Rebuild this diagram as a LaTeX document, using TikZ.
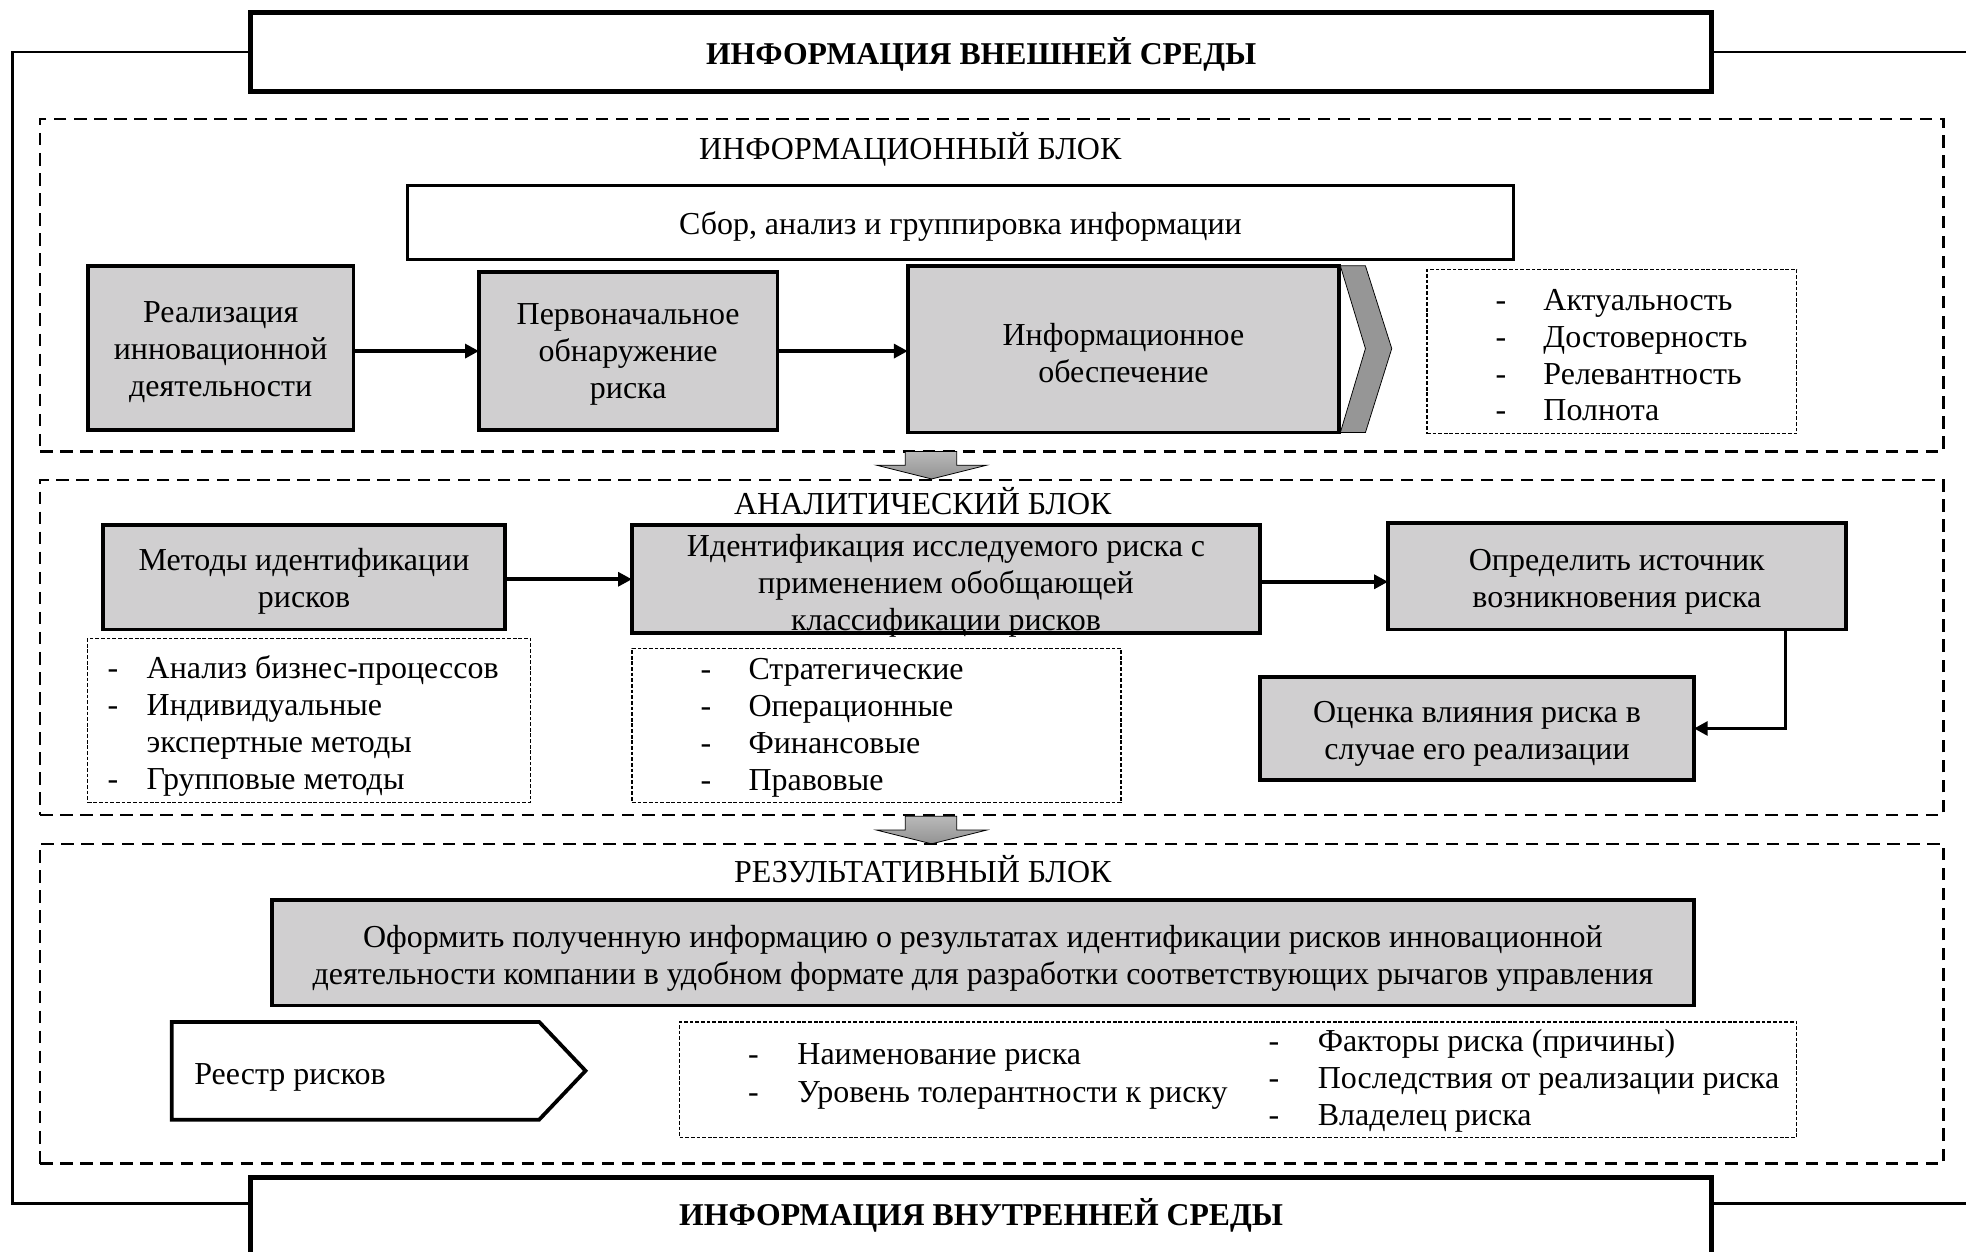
\documentclass[tikz,border=0pt]{standalone}
\usepackage{fontspec}
\setmainfont{Liberation Serif}
\usetikzlibrary{arrows.meta,calc}
\definecolor{boxgray}{RGB}{208,207,208}
\definecolor{chevgray}{RGB}{150,150,150}
\begin{document}
\begin{tikzpicture}[x=1pt,y=-1pt,
  font=\fontsize{25.5}{29.5}\selectfont,
  every node/.style={inner sep=0pt, outer sep=0pt},
  envbox/.style={draw, line width=4pt, fill=white, minimum width=1165pt},
  envtext/.style={font=\fontsize{25.3}{29.5}\selectfont\bfseries},
  graybox/.style={draw, line width=3pt, fill=boxgray},
  whitebox/.style={draw, line width=2.5pt, fill=white},
  boxtext/.style={align=center},
  blockframe/.style={draw, line width=2pt, dash pattern=on 10pt off 6pt},
  listframe/.style={draw, line width=1pt, dash pattern=on 3pt off 1.5pt},
  arr/.style={line width=3pt, -{Triangle[length=11pt,width=11pt]}},
  blockarrow/.style={draw, line width=0.6pt, top color=gray!55, bottom color=gray!85},
  chev/.style={draw, line width=0.6pt, fill=chevgray}
]
\useasboundingbox (0,0) rectangle (1568,998);

% frame lines and environment boxes
\node[envbox, minimum height=63pt] (ext) at (782.5,41.5) {};
\node[envtext] (exttext) at (782.5,43) {ИНФОРМАЦИЯ ВНЕШНЕЙ СРЕДЫ};
\node[envbox, minimum height=64pt] (int) at (782.5,971) {};
\node[envtext] (inttext) at (782.5,969.5) {ИНФОРМАЦИЯ ВНУТРЕННЕЙ СРЕДЫ};
\draw[line width=2pt] (ext.west) -- (10,41.5) -- (10,960) -- (int.west |- 0,960);
\draw[line width=2pt] (ext.east) -- (1568,41.5);
\draw[line width=2pt] (int.east |- 0,960) -- (1568,960);

% ---------- information block ----------
\node[blockframe, minimum width=1518pt, minimum height=265pt] (infoblk) at (791,227.5) {};
\node (infotitle) at (726,119) {ИНФОРМАЦИОННЫЙ БЛОК};
\node[whitebox, minimum width=882pt, minimum height=59pt] (sbor) at (766,177.5) {};
\node[boxtext] (sbortext) at (766,181) {Сбор, анализ и группировка информации};
\node[graybox, minimum width=212pt, minimum height=131pt] (real) at (176,277.5) {};
\node[boxtext] (realtext) at (176,281) {Реализация\\инновационной\\деятельности};
\node[graybox, minimum width=238pt, minimum height=126pt] (perv) at (501,280) {};
\node[boxtext] (pervtext) at (501,283) {Первоначальное\\обнаружение\\риска};
\node[graybox, minimum width=344pt, minimum height=133pt] (infob) at (896,278.5) {};
\node[boxtext] (infobtext) at (896,281.5) {Информационное\\обеспечение};
\draw[chev] (1069,212) -- (1089,212) -- (1110,278) -- (1089,345) -- (1069,345) -- (1089,278) -- cycle;
\node[listframe, minimum width=295pt, minimum height=131pt] (list1) at (1285.5,280.5) {};
\foreach \t [count=\i] in {Актуальность,Достоверность,Релевантность,Полнота} {
  \node[anchor=base] (d1\i) at (1197,{248+29.2*(\i-1)}) {-};
  \node[anchor=base west] (l1\i) at (1231,{248+29.2*(\i-1)}) {\t};
}
\draw[arr] (real.east |- 0,280) -- (perv.west |- 0,280);
\draw[arr] (perv.east |- 0,280) -- (infob.west |- 0,280);

% block arrow 1
\path[blockarrow] (722,360) -- (763,360) -- (763,371) -- (787,371) -- (743,382) -- (699,371) -- (722,371) -- cycle;

% ---------- analytic block ----------
\node[blockframe, minimum width=1518pt, minimum height=267pt] (anblk) at (791,516.5) {};
\node (antitle) at (736,400) {АНАЛИТИЧЕСКИЙ БЛОК};
\node[graybox, minimum width=321pt, minimum height=83pt] (metody) at (242.5,460.5) {};
\node[boxtext] (metodytext) at (242.5,464) {Методы идентификации\\рисков};
\node[graybox, minimum width=501pt, minimum height=86pt] (ident) at (754.5,462) {};
\node[boxtext] (identtext) at (754.5,467) {Идентификация исследуемого риска с\\применением обобщающей\\классификации рисков};
\node[graybox, minimum width=365pt, minimum height=85pt] (opred) at (1289.5,459.5) {};
\node[boxtext] (opredtext) at (1289.5,464) {Определить источник\\возникновения риска};
\node[graybox, minimum width=346pt, minimum height=82pt] (ocenka) at (1178,581) {};
\node[boxtext] (ocenkatext) at (1178,585) {Оценка влияния риска в\\случае его реализации};
\node[listframe, minimum width=353pt, minimum height=131pt] (list2) at (246.5,574.5) {};
\node[anchor=base] (d21) at (90,541) {-};
\node[anchor=base west] (l21) at (117,541) {Анализ бизнес-процессов};
\node[anchor=base] (d22) at (90,570.5) {-};
\node[anchor=base west] (l22) at (117,570.5) {Индивидуальные};
\node[anchor=base west] (l23) at (117,600) {экспертные методы};
\node[anchor=base] (d24) at (90,629.5) {-};
\node[anchor=base west] (l24) at (117,629.5) {Групповые методы};
\node[listframe, minimum width=390pt, minimum height=123pt] (list3) at (699,578.5) {};
\foreach \t [count=\i] in {Стратегические,Операционные,Финансовые,Правовые} {
  \node[anchor=base] (d3\i) at (563,{542+29.6*(\i-1)}) {-};
  \node[anchor=base west] (l3\i) at (597,{542+29.6*(\i-1)}) {\t};
}
\draw[arr] (metody.east |- 0,462) -- (ident.west |- 0,462);
\draw[arr] (ident.east |- 0,464) -- (opred.west |- 0,464);
\draw[arr] ([xshift=-48pt]opred.south east) |- (ocenka.east);

% block arrow 2
\path[blockarrow] (722,651) -- (763,651) -- (763,662) -- (787,662) -- (743,673) -- (699,662) -- (722,662) -- cycle;

% ---------- results block ----------
\node[blockframe, minimum width=1518pt, minimum height=255pt] (resblk) at (791,800.5) {};
\node (restitle) at (736,693) {РЕЗУЛЬТАТИВНЫЙ БЛОК};
\node[graybox, minimum width=1134pt, minimum height=84pt] (oform) at (784,760) {};
\node[boxtext] (oformtext) at (784,764) {Оформить полученную информацию о результатах идентификации рисков инновационной\\деятельности компании в удобном формате для разработки соответствующих рычагов управления};
\draw[line width=3pt, line join=miter, fill=white] (137,815) -- (430,815) -- (467,854) -- (430,893) -- (137,893) -- cycle;
\node[anchor=base west] (reestr) at (155,865) {Реестр рисков};
\node[listframe, minimum width=891pt, minimum height=92pt] (list4) at (987.5,861) {};
\node[anchor=base] (d41) at (601,849) {-};
\node[anchor=base west] (l41) at (636,849) {Наименование риска};
\node[anchor=base] (d42) at (601,879) {-};
\node[anchor=base west] (l42) at (636,879) {Уровень толерантности к риску};
\foreach \t [count=\i] in {Факторы риска (причины),Последствия от реализации риска,Владелец риска} {
  \node[anchor=base] (d5\i) at (1016,{839+29.5*(\i-1)}) {-};
  \node[anchor=base west] (l5\i) at (1051,{839+29.5*(\i-1)}) {\t};
}
\end{tikzpicture}
\end{document}
